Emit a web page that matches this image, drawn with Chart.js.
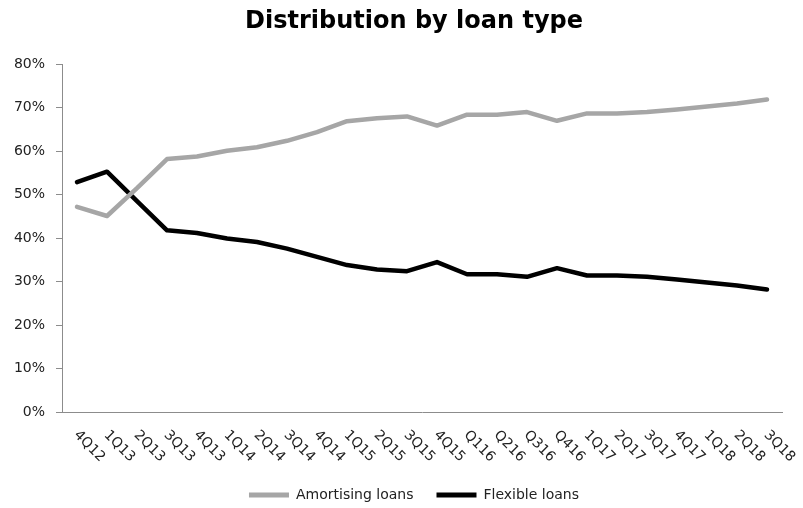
<!DOCTYPE html>
<html>
<head>
<meta charset="utf-8">
<script src="https://cdn.jsdelivr.net/npm/chart.js@4/dist/chart.umd.min.js"></script>
<style>
  html, body { margin: 0; padding: 0; background: #fff; }
  #wrap { width: 803px; height: 508px; position: relative; }
</style>
</head>
<body>
<div id="wrap"><canvas id="loanChart"></canvas></div>
<script>
// Quarterly share of loans by type (%)
const quarters = ['4Q12', '1Q13', '2Q13', '3Q13', '4Q13', '1Q14', '2Q14', '3Q14', '4Q14',
  '1Q15', '2Q15', '3Q15', '4Q15', 'Q116', 'Q216', 'Q316', 'Q416',
  '1Q17', '2Q17', '3Q17', '4Q17', '1Q18', '2Q18', '3Q18'];
const amortising = [47.2, 45.1, 51.5, 58.2, 58.8, 60.1, 60.9, 62.4, 64.4,
  66.9, 67.6, 68.0, 65.9, 68.4, 68.4, 69.0, 67.0,
  68.7, 68.7, 69.0, 69.6, 70.3, 71.0, 71.9];
const flexible = [52.9, 55.3, 48.5, 41.8, 41.2, 39.9, 39.1, 37.6, 35.7,
  33.8, 32.8, 32.4, 34.5, 31.7, 31.7, 31.1, 33.1,
  31.4, 31.4, 31.1, 30.5, 29.8, 29.1, 28.2];
const percentTicks = [0, 10, 20, 30, 40, 50, 60, 70, 80];

const FONT = '"DejaVu Sans", sans-serif';
const AXIS_GREY = '#8c8c8c';

// Axis labels drawn by hand: y labels sit left of the narrow y box,
// x labels slant down to the right from each category
const axisLabels = {
  id: 'axisLabels',
  afterDraw(chart) {
    const { x: xs, y: ys } = chart.scales;
    const ctx = chart.ctx;
    ctx.save();
    ctx.font = '14px ' + FONT;
    ctx.fillStyle = '#222';

    ctx.textAlign = 'right';
    ctx.textBaseline = 'middle';
    percentTicks.forEach(v => {
      ctx.fillText(v + '%', ys.right - 17, ys.getPixelForValue(v));
    });

    ctx.textAlign = 'left';
    quarters.forEach((q, i) => {
      ctx.save();
      ctx.translate(xs.getPixelForTick(i) - 1, xs.top + 21);
      ctx.rotate(Math.PI / 4);
      ctx.fillText(q, 0, 0);
      ctx.restore();
    });
    ctx.restore();
  }
};

new Chart(document.getElementById('loanChart'), {
  type: 'line',
  data: {
    labels: quarters,
    datasets: [{
      label: 'Amortising loans',
      data: amortising,
      borderColor: '#a6a6a6',
      backgroundColor: '#a6a6a6',
      borderWidth: 4.5
    }, {
      label: 'Flexible loans',
      data: flexible,
      borderColor: '#000000',
      backgroundColor: '#000000',
      borderWidth: 4.5
    }]
  },
  options: {
    responsive: true,
    maintainAspectRatio: false,
    animation: false,
    elements: {
      point: { radius: 0, hoverRadius: 0 },
      line: { tension: 0, borderCapStyle: 'round', borderJoinStyle: 'round' }
    },
    layout: { padding: { left: 46, right: 21, top: 0, bottom: -4 } },
    scales: {
      x: {
        offset: true,
        grid: { display: false },
        border: { display: true, color: AXIS_GREY, width: 1 },
        ticks: { display: false },
        afterFit: (scale) => { scale.height = 53; }
      },
      y: {
        min: 0,
        max: 80,
        grid: { display: true, drawOnChartArea: false, drawTicks: true, tickLength: 6, color: AXIS_GREY },
        border: { display: true, color: AXIS_GREY, width: 1 },
        ticks: { stepSize: 10, display: false },
        afterFit: (scale) => { scale.width = 16; }
      }
    },
    plugins: {
      title: {
        display: true,
        text: 'Distribution by loan type',
        color: '#000',
        font: { family: FONT, size: 24, weight: 'bold' },
        padding: { top: 7, bottom: 28.5 }
      },
      legend: {
        position: 'bottom',
        labels: {
          boxWidth: 40,
          boxHeight: 5,
          padding: 23,
          color: '#222',
          font: { family: FONT, size: 14 },
          generateLabels: (chart) =>
            Chart.defaults.plugins.legend.labels.generateLabels(chart).map(l => ({ ...l, lineWidth: 0 }))
        }
      },
      tooltip: { enabled: false }
    }
  },
  plugins: [axisLabels]
});
</script>
</body>
</html>
